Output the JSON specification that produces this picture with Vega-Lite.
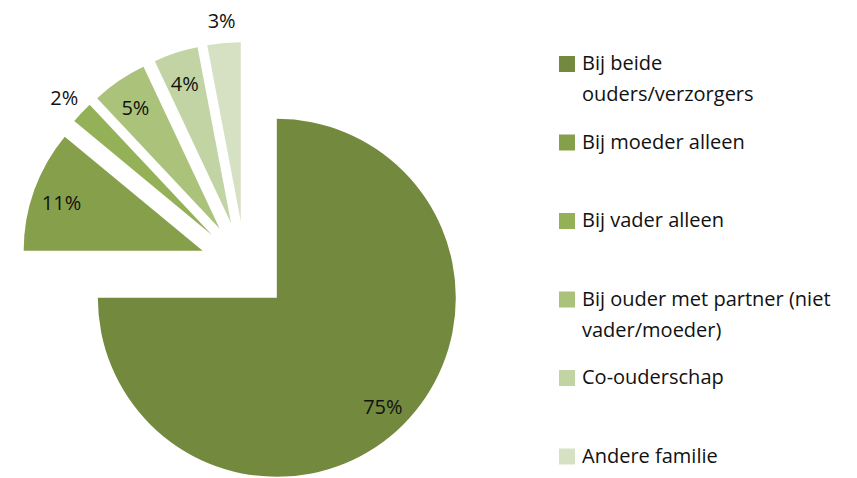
{
  "$schema": "https://vega.github.io/schema/vega-lite/v6.json",
  "width": 857,
  "height": 478,
  "padding": 0,
  "autosize": {"type": "none"},
  "background": "white",
  "config": {
    "view": {"stroke": null},
    "style": {"guide-label": {"lineHeight": 31}}
  },
  "data": {
    "values": [
      {"category": "Bij beide ouders/verzorgers", "value": 75},
      {"category": "Bij moeder alleen", "value": 11},
      {"category": "Bij vader alleen", "value": 2},
      {"category": "Bij ouder met partner (niet vader/moeder)", "value": 5},
      {"category": "Co-ouderschap", "value": 4},
      {"category": "Andere familie", "value": 3}
    ]
  },
  "transform": [
    {"window": [{"op": "sum", "field": "value", "as": "end"}], "frame": [null, 0]},
    {"calculate": "datum.end - datum.value", "as": "start"},
    {"calculate": "(datum.start + datum.end) / 2", "as": "mid"},
    {"calculate": "sin(datum.mid / 100 * 2 * PI)", "as": "dx"},
    {"calculate": "-cos(datum.mid / 100 * 2 * PI)", "as": "dy"},
    {"calculate": "datum.value + '%'", "as": "label"}
  ],
  "encoding": {
    "x": {"field": "dx", "type": "quantitative", "scale": {"domain": [-1, 1], "range": [200, 290]}, "axis": null},
    "y": {"field": "dy", "type": "quantitative", "scale": {"domain": [-1, 1], "range": [221, 311]}, "axis": null}
  },
  "layer": [
    {
      "mark": {"type": "arc", "outerRadius": 179},
      "encoding": {
        "theta": {"field": "start", "type": "quantitative", "stack": null, "scale": {"domain": [0, 100]}},
        "theta2": {"field": "end"},
        "color": {
          "field": "category",
          "type": "nominal",
          "scale": {
            "domain": ["Bij beide ouders/verzorgers", "Bij moeder alleen", "Bij vader alleen", "Bij ouder met partner (niet vader/moeder)", "Co-ouderschap", "Andere familie"],
            "range": ["#738A3E", "#869F4B", "#95B157", "#AAC27A", "#C2D3A4", "#D6E1C4"]
          },
          "legend": {
            "orient": "none",
            "legendX": 557,
            "legendY": 54,
            "title": null,
            "symbolType": "square",
            "symbolSize": 256,
            "symbolStrokeWidth": 0,
            "labelFont": "Open Sans",
            "labelFontSize": 20,
            "labelColor": "#111111",
            "labelLimit": 400,
            "labelOffset": 5,
            "rowPadding": 27.5,
            "gridAlign": "all",
            "labelExpr": "datum.label == 'Bij beide ouders/verzorgers' ? ['Bij beide', 'ouders/verzorgers'] : datum.label == 'Bij ouder met partner (niet vader/moeder)' ? ['Bij ouder met partner (niet', 'vader/moeder)'] : datum.label"
          }
        }
      }
    },
    {
      "transform": [{"filter": "datum.value >= 3.5"}],
      "mark": {"type": "text", "radius": 150, "dy": 4, "font": "Open Sans", "fontSize": 20, "color": "#111111"},
      "encoding": {
        "theta": {"field": "mid", "type": "quantitative", "stack": null},
        "text": {"field": "label", "type": "nominal"}
      }
    },
    {
      "transform": [{"filter": "datum.value < 3.5"}],
      "mark": {"type": "text", "radius": 203, "dy": 3, "font": "Open Sans", "fontSize": 20, "color": "#111111"},
      "encoding": {
        "theta": {"field": "mid", "type": "quantitative", "stack": null},
        "text": {"field": "label", "type": "nominal"}
      }
    }
  ]
}
